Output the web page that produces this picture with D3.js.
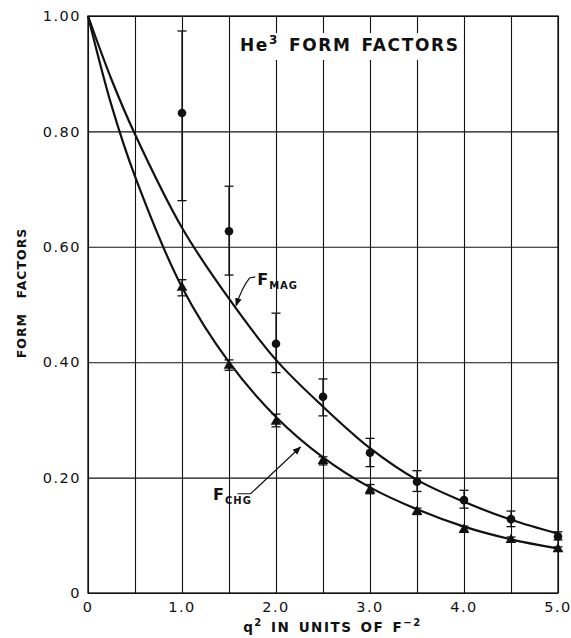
<!DOCTYPE html>
<html>
<head>
<meta charset="utf-8">
<script src="https://cdn.jsdelivr.net/npm/d3@7"></script>
<style>
  body { margin: 0; background: #fff; }
  svg { display: block; font-family: "DejaVu Sans", sans-serif; }
</style>
</head>
<body>
<div id="chart"></div>
<script>
// measured points (q^2, F) with error bars
const qPoints = [1.0, 1.5, 2.0, 2.5, 3.0, 3.5, 4.0, 4.5, 5.0];
const magValues = [0.832, 0.627, 0.432, 0.340, 0.243, 0.193, 0.161, 0.128, 0.098];
const magLow    = [0.680, 0.551, 0.382, 0.307, 0.219, 0.176, 0.147, 0.115, 0.092];
const magHigh   = [0.974, 0.705, 0.485, 0.371, 0.268, 0.212, 0.178, 0.142, 0.106];
const chgValues = [0.529, 0.394, 0.297, 0.229, 0.178, 0.141, 0.110, 0.092, 0.076];
const chgLow    = [0.515, 0.386, 0.288, 0.222, 0.172, 0.136, 0.105, 0.088, 0.073];
const chgHigh   = [0.543, 0.404, 0.310, 0.236, 0.188, 0.147, 0.116, 0.097, 0.080];

// fitted curves
const curveQ   = [0, 0.25, 0.5, 1.0, 1.5, 2.0, 2.5, 3.0, 3.5, 4.0, 4.5, 5.0];
const magCurve = [1.0, 0.89, 0.795, 0.633, 0.510, 0.404, 0.323, 0.251, 0.196, 0.158, 0.127, 0.103];
const chgCurve = [1.0, 0.845, 0.722, 0.530, 0.400, 0.305, 0.235, 0.183, 0.145, 0.115, 0.093, 0.077];

const xTicks = [0, 1, 2, 3, 4, 5];
const xTickLabels = ['0', '1.0', '2.0', '3.0', '4.0', '5.0'];
const yTicks = [0, 0.2, 0.4, 0.6, 0.8, 1.0];
const yTickLabels = ['0', '0.20', '0.40', '0.60', '0.80', '1.00'];

const W = 571, H = 638;
const margin = { top: 16, right: 13, bottom: 45, left: 88 };
const iW = W - margin.left - margin.right;
const iH = H - margin.top - margin.bottom;

const svg = d3.select('#chart').append('svg')
  .attr('width', W).attr('height', H);

const g = svg.append('g').attr('transform', `translate(${margin.left},${margin.top})`);

const x = d3.scaleLinear().domain([0, 5]).range([0, iW]);
const y = d3.scaleLinear().domain([0, 1]).range([iH, 0]);

const ink = '#111';

// grid: vertical every 0.5, horizontal every 0.2
g.append('g')
  .call(d3.axisBottom(x).tickValues(d3.range(0, 5.01, 0.5)).tickSize(-iH).tickFormat(''))
  .attr('transform', `translate(0,${iH})`)
  .call(ax => ax.select('.domain').remove())
  .call(ax => ax.selectAll('line').attr('stroke', ink).attr('stroke-width', 1.1));

g.append('g')
  .call(d3.axisLeft(y).tickValues(yTicks).tickSize(-iW).tickFormat(''))
  .call(ax => ax.select('.domain').remove())
  .call(ax => ax.selectAll('line').attr('stroke', ink).attr('stroke-width', 1.1));

g.append('rect')
  .attr('width', iW).attr('height', iH)
  .attr('fill', 'none').attr('stroke', ink).attr('stroke-width', 1.3);

// tick labels
g.selectAll('text.ytick')
  .data(yTicks)
  .join('text')
  .attr('class', 'ytick')
  .attr('x', -7).attr('y', d => y(d))
  .attr('dy', '0.36em')
  .attr('text-anchor', 'end')
  .attr('font-size', '14.5px').attr('letter-spacing', '1.5px').attr('fill', ink)
  .text((d, i) => yTickLabels[i]);

g.selectAll('text.xtick')
  .data(xTicks)
  .join('text')
  .attr('class', 'xtick')
  .attr('x', d => x(d)).attr('y', iH + 19)
  .attr('text-anchor', 'middle')
  .attr('font-size', '14.5px').attr('letter-spacing', '1.5px').attr('fill', ink)
  .text((d, i) => xTickLabels[i]);

// title box
const titleBox = g.append('g');
titleBox.append('rect')
  .attr('x', x(1.5) + 3).attr('y', 17)
  .attr('width', x(4.0) - x(1.5) - 6).attr('height', 27)
  .attr('fill', '#fff');
const title = titleBox.append('text')
  .attr('x', 152).attr('y', 35)
  .attr('font-size', '17px').attr('font-weight', 'bold')
  .attr('letter-spacing', '1.6px').attr('fill', ink);
title.append('tspan').text('He');
title.append('tspan').attr('dy', -7).attr('font-size', '12px').text('3');
title.append('tspan').attr('dy', 7).text('\u2002FORM\u2002FACTORS');

// curves
const line = d3.line().curve(d3.curveCatmullRom.alpha(0.5))
  .x(d => x(d[0])).y(d => y(d[1]));

g.append('path')
  .datum(curveQ.map((q, i) => [q, magCurve[i]]))
  .attr('d', line)
  .attr('fill', 'none').attr('stroke', ink).attr('stroke-width', 2.2);

g.append('path')
  .datum(curveQ.map((q, i) => [q, chgCurve[i]]))
  .attr('d', line)
  .attr('fill', 'none').attr('stroke', ink).attr('stroke-width', 2.2);

// error bars
function errorBars(values, low, high, cap) {
  const eb = g.append('g');
  const rows = qPoints.map((q, i) => ({ q, lo: low[i], hi: high[i] }));
  eb.selectAll('line.v').data(rows).join('line')
    .attr('x1', d => x(d.q)).attr('x2', d => x(d.q))
    .attr('y1', d => y(d.lo)).attr('y2', d => y(d.hi))
    .attr('stroke', ink).attr('stroke-width', 1.3);
  ['lo', 'hi'].forEach(k => {
    eb.selectAll('line.' + k).data(rows).join('line')
      .attr('class', k)
      .attr('x1', d => x(d.q) - cap).attr('x2', d => x(d.q) + cap)
      .attr('y1', d => y(d[k])).attr('y2', d => y(d[k]))
      .attr('stroke', ink).attr('stroke-width', 1.3);
  });
}
errorBars(magValues, magLow, magHigh, 4.5);
errorBars(chgValues, chgLow, chgHigh, 4.5);

// markers
g.selectAll('circle.mag')
  .data(qPoints)
  .join('circle')
  .attr('class', 'mag')
  .attr('cx', d => x(d))
  .attr('cy', (d, i) => y(magValues[i]))
  .attr('r', 4.3)
  .attr('fill', ink);

g.selectAll('path.chg')
  .data(qPoints)
  .join('path')
  .attr('class', 'chg')
  .attr('d', d3.symbol(d3.symbolTriangle, 50))
  .attr('transform', (d, i) => `translate(${x(d)},${y(chgValues[i])})`)
  .attr('fill', ink);

// curve labels with leaders
svg.append('defs').append('marker')
  .attr('id', 'arrow')
  .attr('viewBox', '0 0 10 10').attr('refX', 9).attr('refY', 5)
  .attr('markerWidth', 7).attr('markerHeight', 7)
  .attr('orient', 'auto-start-reverse')
  .append('path').attr('d', 'M0,1 L10,5 L0,9 z').attr('fill', ink);

function curveLabel(lx, ly, sub) {
  const t = g.append('text')
    .attr('x', x(lx)).attr('y', y(ly))
    .attr('font-size', '16px').attr('font-weight', 'bold').attr('fill', ink);
  t.append('tspan').text('F');
  t.append('tspan').attr('dy', 4).attr('dx', 1).attr('font-size', '10px')
    .attr('letter-spacing', '1px').text(sub);
}

curveLabel(1.80, 0.534, 'MAG');
g.append('path')
  .attr('d', `M${x(1.78)},${y(0.548)} L${x(1.72)},${y(0.546)} Q${x(1.64)},${y(0.53)} ${x(1.575)},${y(0.498)}`)
  .attr('fill', 'none').attr('stroke', ink).attr('stroke-width', 1.2)
  .attr('marker-end', 'url(#arrow)');

curveLabel(1.33, 0.161, 'CHG');
g.append('path')
  .attr('d', `M${x(1.59)},${y(0.172)} L${x(1.73)},${y(0.172)} L${x(2.26)},${y(0.253)}`)
  .attr('fill', 'none').attr('stroke', ink).attr('stroke-width', 1.2)
  .attr('marker-end', 'url(#arrow)');

// axis titles
svg.append('text')
  .attr('transform', `translate(26,${margin.top + y(0.52)}) rotate(-90)`)
  .attr('text-anchor', 'middle')
  .attr('font-size', '12.5px').attr('font-weight', 'bold')
  .attr('letter-spacing', '1px').attr('fill', ink)
  .text('FORM\u2002\u2002FACTORS');

const xt = svg.append('text')
  .attr('x', margin.left + x(2.6)).attr('y', 632)
  .attr('text-anchor', 'middle')
  .attr('font-size', '13.5px').attr('font-weight', 'bold')
  .attr('letter-spacing', '1.5px').attr('fill', ink);
xt.append('tspan').text('q');
xt.append('tspan').attr('dy', -6).attr('font-size', '10px').text('2');
xt.append('tspan').attr('dy', 6).text('\u2002IN\u2002UNITS\u2002OF\u2002F');
xt.append('tspan').attr('dy', -6).attr('font-size', '10px').text('\u22122');
</script>
</body>
</html>
